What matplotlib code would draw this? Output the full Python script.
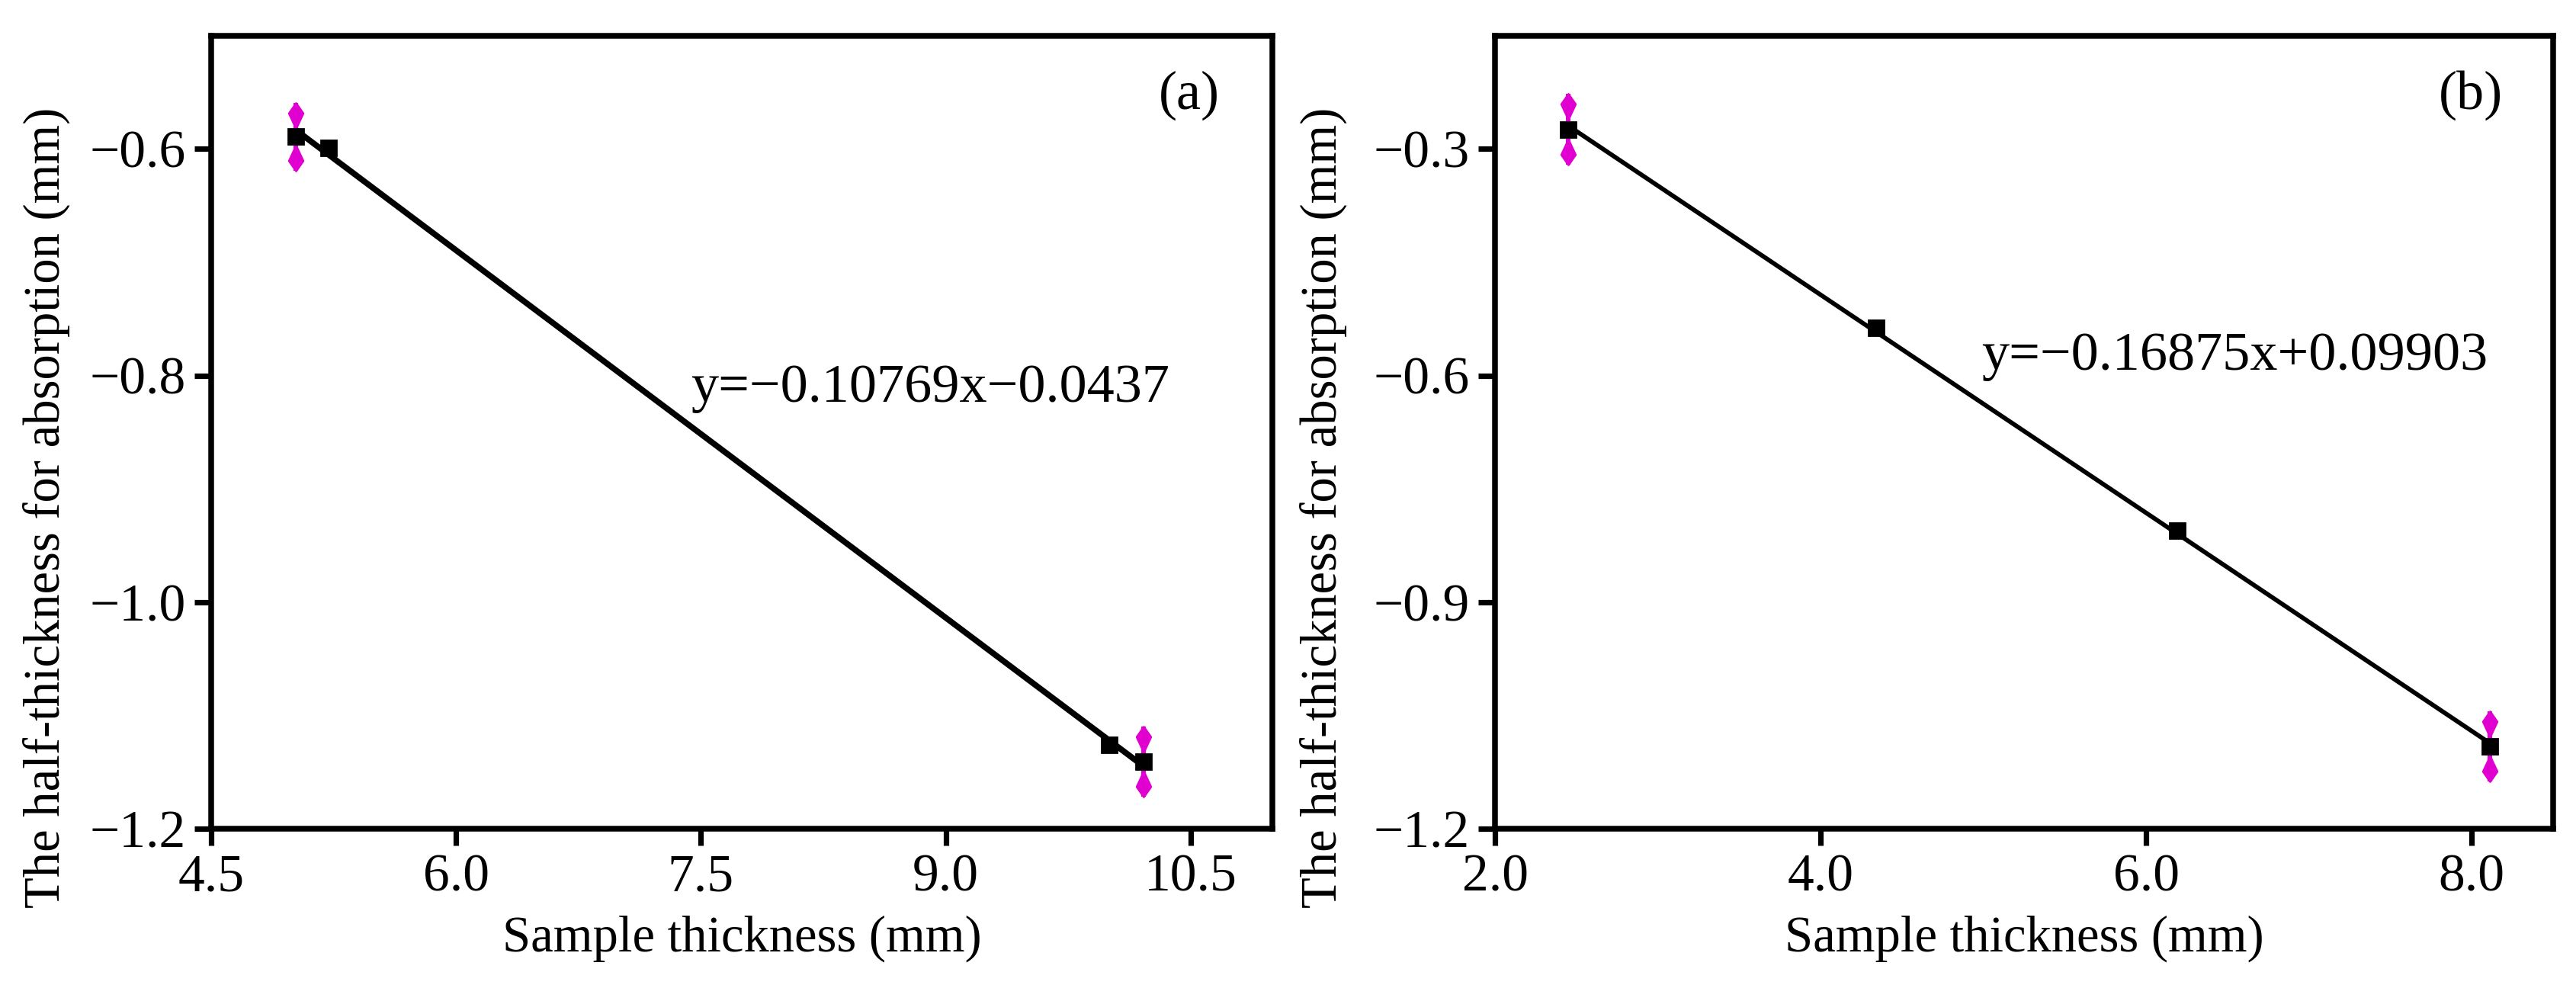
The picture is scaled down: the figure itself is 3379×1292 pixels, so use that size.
import numpy as np
import matplotlib
matplotlib.use("Agg")
import matplotlib.pyplot as plt
from matplotlib.path import Path

plt.rcParams['font.family'] = ['Liberation Serif', 'DejaVu Serif']
plt.rcParams['axes.unicode_minus'] = True

# panel (a): sample thickness vs half-thickness for absorption
a_x = [5.02, 5.22, 10.00, 10.21]
a_y = [-0.589, -0.599, -1.126, -1.141]
a_err = [0.030, 0.0, 0.0, 0.031]
a_eq = "y=\u22120.10769x\u22120.0437"

# panel (b)
b_x = [2.45, 4.34, 6.19, 8.11]
b_y = [-0.274, -0.537, -0.805, -1.091]
b_err = [0.047, 0.0, 0.0, 0.046]
b_eq = "y=\u22120.16875x+0.09903"

a_xticks = [4.5, 6.0, 7.5, 9.0, 10.5]
a_yticks = [-1.2, -1.0, -0.8, -0.6]
b_xticks = [2.0, 4.0, 6.0, 8.0]
b_yticks = [-1.2, -0.9, -0.6, -0.3]

magenta = '#E000D0'

# arrow-like blobs for the error bar ends (tip sits on the data end)
tip_up = Path([(0, 0), (0.28, -0.4), (0, -1.0), (-0.28, -0.4), (0, 0)],
              [Path.MOVETO, Path.LINETO, Path.LINETO, Path.LINETO, Path.CLOSEPOLY])
tip_dn = Path([(0, 0), (0.28, 0.4), (0, 1.0), (-0.28, 0.4), (0, 0)],
              [Path.MOVETO, Path.LINETO, Path.LINETO, Path.LINETO, Path.CLOSEPOLY])

fig = plt.figure(figsize=(16.9, 6.46), dpi=200)
ax1 = fig.add_axes([0.08195, 0.1587, 0.4118, 0.8050])
ax2 = fig.add_axes([0.5802, 0.1587, 0.4106, 0.8050])


def draw_panel(ax, x, y, err, eq, tag, xlim, ylim, xticks, yticks, lw, eq_pos):
    x = np.array(x)
    y = np.array(y)
    err = np.array(err)
    k, b = np.polyfit(x, y, 1)
    xs = np.array([x.min(), x.max()])
    ax.plot(xs, k * xs + b, color='black', lw=lw, zorder=2)

    m = err > 0
    ax.vlines(x[m], y[m] - err[m], y[m] + err[m], color=magenta, lw=2.2, zorder=3)
    ax.plot(x[m], y[m] + err[m], ls='none', marker=tip_up, ms=24,
            color=magenta, mec=magenta, zorder=3)
    ax.plot(x[m], y[m] - err[m], ls='none', marker=tip_dn, ms=24,
            color=magenta, mec=magenta, zorder=3)
    ax.plot(x, y, ls='none', marker='s', ms=7.5, color='black', zorder=4)

    ax.set_xlim(*xlim)
    ax.set_ylim(*ylim)
    ax.set_xticks(xticks)
    ax.set_yticks(yticks)
    ax.set_xticklabels(['%.1f' % t for t in xticks])
    ax.set_yticklabels([('%.1f' % t).replace('-', '\u2212') for t in yticks])
    ax.tick_params(direction='out', length=8, width=2.6, labelsize=25, pad=4,
                   top=False, right=False)
    for s in ax.spines.values():
        s.set_linewidth(2.7)
    ax.set_xlabel('Sample thickness (mm)', fontsize=24, labelpad=6)
    ax.set_ylabel('The half-thickness for absorption (mm)', fontsize=24)
    ax.text(eq_pos[0], eq_pos[1], eq, transform=ax.transAxes, fontsize=26,
            ha='left', va='center')
    ax.text(0.922, 0.925, tag, transform=ax.transAxes, fontsize=26,
            ha='center', va='center')


draw_panel(ax1, a_x, a_y, a_err, a_eq, '(a)', (4.5, 11.0), (-1.2, -0.5),
           a_xticks, a_yticks, 2.8, (0.452, 0.555))
draw_panel(ax2, b_x, b_y, b_err, b_eq, '(b)', (2.0, 8.5), (-1.2, -0.15),
           b_xticks, b_yticks, 2.1, (0.46, 0.596))

ax1.yaxis.set_label_coords(-0.133, 0.405)
ax2.yaxis.set_label_coords(-0.140, 0.405)

fig.savefig('out.png', dpi=200)
